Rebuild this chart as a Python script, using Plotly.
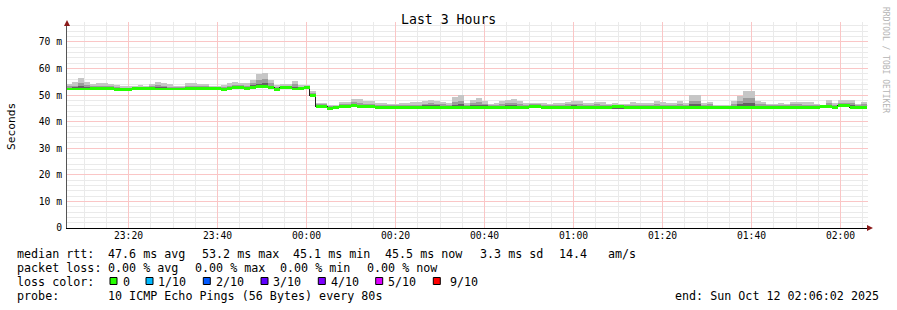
import plotly.graph_objects as go
from datetime import datetime, timedelta

# ---------------- data (80 s steps, 23:06:02 -> 02:06:02) ----------------
start_time = "2025-10-11 23:06:02"
step_seconds = 80
x_range = ["2025-10-11 23:06:10.8", "2025-10-12 02:06:10.8"]

median = [
    52.3, 52.3, 52.3, 52.3, 52.5, 52.6, 52.6, 52.6, 52.0, 52.0, 52.0, 52.4, 52.5, 52.5, 52.5,
    52.3, 52.3, 52.3, 52.3, 52.3, 52.5, 52.5, 52.5, 52.5, 52.5, 52.5, 52.0, 52.5, 52.8, 52.9,
    52.6, 53.0, 53.1, 53.2, 53.0, 52.2, 53.0, 52.9, 52.3, 52.4, 52.8, 49.7, 45.8, 45.8, 45.1,
    45.2, 45.6, 45.6, 46.0, 45.6, 45.7, 45.7, 45.5, 45.5, 45.4, 45.4, 45.5, 45.5, 45.4, 45.4,
    45.5, 45.5, 45.5, 45.5, 45.4, 45.4, 45.4, 45.4, 45.5, 45.5, 45.5, 45.4, 45.4, 45.5, 45.5,
    45.5, 45.5, 45.5, 45.8, 45.8, 45.4, 45.4, 45.4, 45.4, 45.5, 45.5, 45.4, 45.4, 45.5, 45.5,
    45.4, 45.4, 45.6, 45.6, 45.4, 45.4, 45.5, 45.5, 45.5, 45.4, 45.4, 45.5, 45.5, 45.4, 45.4,
    45.5, 45.5, 45.4, 45.4, 45.5, 45.5, 45.4, 45.4, 45.5, 45.5, 45.4, 45.4, 45.5, 45.5, 45.5,
    45.4, 45.4, 45.5, 45.5, 45.4, 45.4, 45.5, 45.6, 45.6, 45.5, 46.0, 46.0, 45.4, 45.5, 45.5,
]

smoke_max = [
    54.3, 54.8, 56.4, 55.0, 54.1, 54.4, 54.4, 54.0, 53.7, 53.4, 53.3, 53.5, 53.7, 53.5, 54.0,
    55.0, 54.6, 54.0, 53.6, 53.5, 54.4, 54.4, 54.2, 54.0, 53.4, 53.5, 53.8, 54.4, 54.8, 54.5,
    54.4, 55.6, 57.9, 58.4, 55.5, 53.7, 54.0, 54.0, 55.3, 53.8, 53.8, 51.6, 47.0, 47.0, 46.4,
    46.4, 47.3, 47.3, 48.6, 48.6, 47.7, 47.7, 46.9, 46.9, 46.6, 46.6, 47.1, 47.1, 47.3, 47.3,
    47.8, 48.1, 47.8, 47.3, 47.1, 49.1, 49.9, 46.9, 48.1, 48.8, 47.8, 46.6, 47.0, 47.6, 48.1,
    48.5, 47.6, 47.0, 47.0, 47.0, 47.0, 46.8, 47.0, 47.0, 47.3, 47.8, 47.8, 47.0, 47.0, 47.3,
    47.3, 46.6, 47.0, 46.6, 46.6, 47.3, 47.0, 47.0, 47.0, 47.6, 47.3, 47.0, 47.0, 47.8, 47.0,
    49.9, 49.9, 47.0, 47.5, 46.3, 46.3, 46.3, 47.9, 49.7, 51.6, 51.6, 47.9, 47.3, 46.8, 46.6,
    47.0, 46.6, 47.3, 47.3, 47.3, 47.3, 46.6, 46.3, 48.1, 47.0, 48.1, 48.1, 48.1, 46.6, 47.3,
]

smoke_mid = [
    53.4, 53.6, 54.6, 53.8, 53.4, 53.6, 53.6, 53.4, 52.9, 52.8, 52.7, 53.0, 53.2, 53.1, 53.3,
    53.8, 53.6, 53.2, 53.0, 53.0, 53.6, 53.6, 53.4, 53.3, 53.0, 53.0, 53.0, 53.5, 53.9, 53.8,
    53.6, 54.4, 55.7, 56.1, 54.4, 53.0, 53.5, 53.5, 54.0, 53.2, 53.3, 50.7, 46.5, 46.5, 45.8,
    45.9, 46.5, 46.5, 47.4, 47.2, 46.8, 46.8, 46.3, 46.3, 46.1, 46.1, 46.4, 46.4, 46.4, 46.4,
    46.8, 46.9, 46.8, 46.5, 46.3, 47.4, 47.9, 46.2, 46.9, 47.3, 46.8, 46.1, 46.3, 46.7, 46.9,
    47.2, 46.7, 46.3, 46.5, 46.5, 46.3, 46.2, 46.3, 46.3, 46.5, 46.8, 46.7, 46.3, 46.3, 46.5,
    46.4, 46.1, 46.4, 46.2, 46.1, 46.4, 46.3, 46.3, 46.3, 46.6, 46.4, 46.3, 46.3, 46.7, 46.3,
    47.9, 47.9, 46.3, 46.6, 46.0, 46.0, 45.9, 46.8, 47.8, 48.9, 48.8, 46.8, 46.5, 46.2, 46.1,
    46.3, 46.1, 46.5, 46.5, 46.4, 46.4, 46.1, 46.0, 47.0, 46.3, 47.2, 47.2, 46.9, 46.1, 46.5,
]

smoke_dark = [
    52.8, 52.9, 53.3, 53.0, 52.9, 53.0, 53.0, 52.9, 52.4, 52.4, 52.3, 52.7, 52.8, 52.8, 52.9,
    53.0, 52.9, 52.7, 52.6, 52.6, 53.0, 53.0, 52.9, 52.9, 52.7, 52.7, 52.5, 53.0, 53.3, 53.3,
    53.0, 53.7, 54.3, 54.5, 53.6, 52.6, 53.3, 53.2, 53.1, 52.8, 53.1, 50.2, 46.1, 46.1, 45.4,
    45.5, 46.0, 46.0, 46.7, 46.4, 46.2, 46.2, 45.9, 45.9, 45.7, 45.7, 45.9, 45.9, 45.9, 45.9,
    46.1, 46.2, 46.1, 46.0, 45.8, 46.3, 46.5, 45.8, 46.2, 46.3, 46.1, 45.7, 45.8, 46.0, 46.2,
    46.3, 46.0, 45.9, 46.1, 46.1, 45.8, 45.8, 45.8, 45.8, 45.9, 46.1, 46.0, 45.8, 45.9, 45.9,
    45.9, 45.7, 46.0, 45.9, 45.7, 45.9, 45.9, 45.9, 45.9, 46.0, 45.9, 45.9, 45.9, 46.0, 45.8,
    46.6, 46.6, 45.8, 45.9, 45.7, 45.7, 45.6, 46.0, 46.5, 47.0, 47.0, 46.0, 45.9, 45.8, 45.8,
    45.8, 45.7, 45.9, 45.9, 45.9, 45.9, 45.8, 45.8, 46.2, 45.9, 46.5, 46.5, 46.1, 45.8, 46.0,
]

smoke_min = [
    51.9, 51.9, 51.8, 51.9, 52.1, 52.2, 52.2, 52.2, 51.7, 51.7, 51.7, 52.0, 52.1, 52.1, 52.1,
    51.9, 51.9, 51.9, 51.9, 51.9, 52.1, 52.1, 52.1, 52.1, 52.1, 52.1, 51.7, 52.1, 52.2, 52.4,
    52.2, 52.5, 52.6, 52.6, 52.5, 51.8, 52.5, 52.4, 51.9, 52.0, 52.3, 49.3, 45.4, 45.4, 44.9,
    44.9, 45.2, 45.2, 45.5, 45.2, 45.3, 45.3, 45.1, 45.1, 45.1, 45.1, 45.2, 45.2, 45.1, 45.1,
    45.2, 45.2, 45.2, 45.2, 45.1, 45.1, 45.1, 45.1, 45.2, 45.2, 45.2, 45.1, 45.1, 45.2, 45.2,
    45.2, 45.2, 45.2, 45.4, 45.4, 45.1, 45.1, 45.1, 45.1, 45.2, 45.2, 45.1, 45.1, 45.2, 45.2,
    45.1, 45.1, 44.9, 44.9, 45.1, 45.1, 45.2, 45.2, 45.2, 45.1, 45.1, 45.2, 45.2, 45.1, 45.1,
    45.2, 45.2, 45.1, 45.1, 45.2, 45.2, 45.1, 45.1, 45.2, 45.2, 45.1, 45.1, 45.2, 45.2, 45.2,
    45.1, 45.1, 45.2, 45.2, 45.1, 45.1, 45.2, 45.2, 45.2, 45.2, 45.6, 45.6, 45.1, 45.2, 45.2,
]

y_tick_vals = [0, 10, 20, 30, 40, 50, 60, 70]
y_tick_text = ["0", "10 m", "20 m", "30 m", "40 m", "50 m", "60 m", "70 m"]

loss_labels = ["0", "1/10", "2/10", "3/10", "4/10", "5/10", "9/10"]
loss_colors = ["#26ff00", "#00b8ff", "#0059ff", "#5e00ff", "#7e00ff", "#dd00ff", "#ff0000"]

median_stats = ["47.6 ms avg", "53.2 ms max", "45.1 ms min", "45.5 ms now", "3.3 ms sd", "14.4", "am/s"]
loss_stats = ["0.00 % avg", "0.00 % max", "0.00 % min", "0.00 % now"]

# ---------------- geometry / style ----------------
W, H = 897, 310
PL, PR, PT, PB = 67, 868, 22, 228       # plot area in px (801 px wide)
FONT = "DejaVu Sans Mono"
GREEN_HALF = 0.55                        # half-thickness of the median band (ms)
Y_RANGE = [0, 77.5]

t0 = datetime.strptime(start_time, "%Y-%m-%d %H:%M:%S")
times = [t0 + timedelta(seconds=step_seconds * i) for i in range(len(median) + 1)]

# minor grid positions: every 5 min / every 2 ms, skipping the major ones
minor_x = []
t = datetime(2025, 10, 11, 23, 10, 0)
while t <= datetime(2025, 10, 12, 2, 5, 0):
    if t.minute % 20 != 0:
        minor_x.append(t)
    t += timedelta(minutes=5)
minor_y = [v for v in range(2, 78, 2) if v % 10 != 0]


def ext(a):
    return list(a) + [a[-1]]


def px(x):
    return (x - PL) / (PR - PL)


def py(y):
    return (PB - y) / (PB - PT)


fig = go.Figure()


def band(lo, hi, color):
    fig.add_trace(go.Scatter(x=times, y=ext(lo), mode="lines",
                             line=dict(width=0, shape="hv", color="rgba(0,0,0,0)"),
                             hoverinfo="skip", showlegend=False))
    fig.add_trace(go.Scatter(x=times, y=ext(hi), mode="lines",
                             line=dict(width=0, shape="hv", color="rgba(0,0,0,0)"),
                             fill="tonexty", fillcolor=color,
                             hoverinfo="skip", showlegend=False))


band(smoke_min, smoke_max, "#c6c6c6")
band(smoke_min, smoke_mid, "#9c9c9c")
band(smoke_min, smoke_dark, "#626262")

fig.add_trace(go.Scatter(x=times, y=ext(median), mode="lines",
                         line=dict(width=1, shape="hv", color="#202020"),
                         hoverinfo="skip", showlegend=False))
band([m - GREEN_HALF for m in median], [m + GREEN_HALF for m in median], loss_colors[0])

# empty trace so the overlay axes (major grid + labels) form a subplot
fig.add_trace(go.Scatter(x=[None], y=[None], xaxis="x2", yaxis="y2", mode="lines",
                         hoverinfo="skip", showlegend=False))

grid_major = "rgb(250,198,198)"
grid_minor = "rgb(234,234,234)"
tickfont = dict(family=FONT, size=9.7, color="#000000")

fig.update_layout(
    xaxis=dict(type="date", range=x_range, tickmode="array", tickvals=minor_x,
               showgrid=True, gridcolor=grid_minor, griddash="solid", gridwidth=1,
               showticklabels=False, ticks="", showline=True, linecolor="#000000",
               linewidth=1, zeroline=False),
    yaxis=dict(range=Y_RANGE, tickmode="array", tickvals=minor_y,
               showgrid=True, gridcolor=grid_minor, griddash="solid", gridwidth=1,
               showticklabels=False, ticks="", showline=True, linecolor="#555555",
               linewidth=1, zeroline=False),
    xaxis2=dict(type="date", range=x_range, overlaying="x", anchor="y2", side="bottom",
                tick0="2025-10-11 23:20:00", dtick=20 * 60 * 1000, tickformat="%H:%M",
                showgrid=True, gridcolor=grid_major, griddash="solid", gridwidth=1,
                showline=False, zeroline=False, ticks="", ticklabelstandoff=0,
                tickfont=tickfont),
    yaxis2=dict(range=Y_RANGE, overlaying="y", anchor="x2", side="left",
                tickvals=y_tick_vals, ticktext=y_tick_text,
                showgrid=True, gridcolor=grid_major, griddash="solid", gridwidth=1,
                showline=False, zeroline=False, ticks="", ticklabelstandoff=4,
                tickfont=tickfont),
)

annotations = []


def text(x, y, s, size=11.7, anchor="left", color="#000000", angle=0):
    annotations.append(dict(x=px(x), y=py(y), xref="paper", yref="paper", text=s,
                            showarrow=False, xanchor=anchor, yanchor="middle",
                            textangle=angle, borderpad=0,
                            font=dict(family=FONT, size=size, color=color)))


text(448, 19, "Last 3 Hours", size=13.2, anchor="center")
text(11, 127, "Seconds", size=11.2, anchor="center", angle=-90)
text(886, 60, "RRDTOOL / TOBI OETIKER", size=8, anchor="center", color="#b4b4b4", angle=90)

# legend lines
text(16, 254, "median rtt:")
for xpos, s in zip([107, 200.7, 292.3, 384, 479.3, 558.3, 607.3], median_stats):
    text(xpos, 254, s)
text(16, 268, "packet loss:")
for xpos, s in zip([107, 194.3, 279.3, 365.7], loss_stats):
    text(xpos, 268, s)
text(16, 282, "loss color:")
box_left = [110, 146, 203.3, 261, 318.3, 375.7, 433.3]
text_left = [121.5, 157, 214.5, 272, 329.5, 386.5, 449]
shapes = []
for bl, tl, lab, col in zip(box_left, text_left, loss_labels, loss_colors):
    shapes.append(dict(type="rect", xref="paper", yref="paper",
                       x0=px(bl), x1=px(bl + 7), y0=py(284.5), y1=py(277.5),
                       fillcolor=col, line=dict(color="#000000", width=1)))
    text(tl, 282, lab)
text(16, 296, "probe:")
text(107.3, 296, "10 ICMP Echo Pings (56 Bytes) every 80s")
text(880, 296, "end: Sun Oct 12 02:06:02 2025", anchor="right")

# axis arrows
arrow_col = "#8b1a1a"
shapes.append(dict(type="path", xref="paper", yref="paper", xsizemode="pixel", ysizemode="pixel",
                   xanchor=0, yanchor=1, path="M -3,-4 L 3,-4 L 0,2 Z",
                   fillcolor=arrow_col, line=dict(color=arrow_col, width=0)))
shapes.append(dict(type="path", xref="paper", yref="paper", xsizemode="pixel", ysizemode="pixel",
                   xanchor=1, yanchor=0, path="M -1,3 L -1,-3 L 5,0 Z",
                   fillcolor=arrow_col, line=dict(color=arrow_col, width=0)))

fig.update_layout(
    width=W, height=H,
    margin=dict(l=PL, r=W - PR, t=PT, b=H - PB, pad=0),
    paper_bgcolor="#ffffff", plot_bgcolor="#ffffff",
    showlegend=False, annotations=annotations, shapes=shapes,
    font=dict(family=FONT, color="#000000"),
)

crisp_js = """
var gd = document.getElementById('{plot_id}');
function crisp() {
  gd.querySelectorAll('.gridlayer path, .minor-gridlayer path, .scatterlayer path, .xlines-above, .ylines-above, .zerolinelayer path')
    .forEach(function (p) { p.style.shapeRendering = 'crispEdges'; });
}
crisp();
gd.on('plotly_afterplot', crisp);
"""

fig.write_html("out.html", post_script=crisp_js)
